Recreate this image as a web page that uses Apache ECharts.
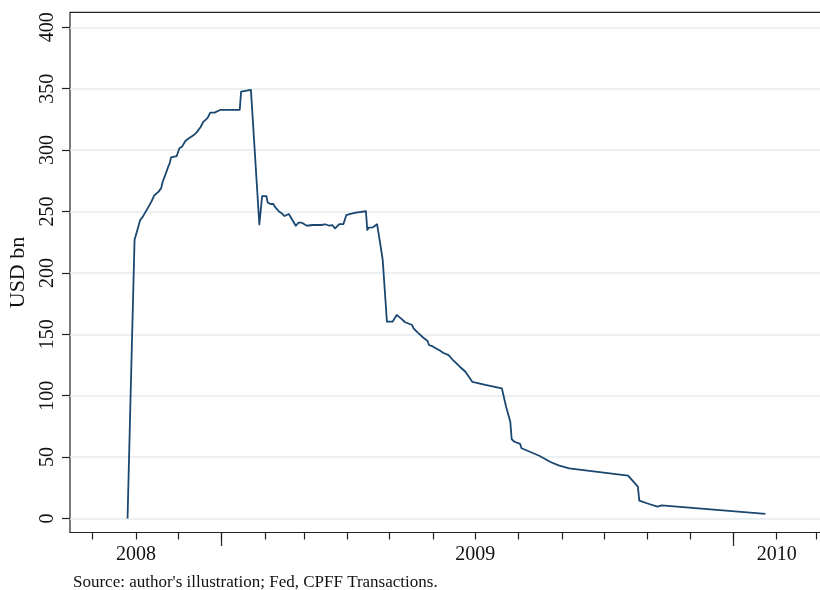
<!DOCTYPE html>
<html>
<head>
<meta charset="utf-8">
<script src="https://cdn.jsdelivr.net/npm/echarts@6/dist/echarts.min.js"></script>
<style>
html,body{margin:0;padding:0;background:#fff;}
#chart{width:820px;height:590px;}
</style>
</head>
<body>
<div id="chart"></div>
<script>
// ---- data ----
const dates = [
 '2008-10-26','2008-10-28','2008-10-31','2008-11-02','2008-11-04','2008-11-06','2008-11-10','2008-11-12',
 '2008-11-14','2008-11-17','2008-11-19','2008-11-20','2008-11-22','2008-11-24','2008-11-25','2008-11-26',
 '2008-11-30','2008-12-02','2008-12-04','2008-12-06','2008-12-08','2008-12-12','2008-12-14','2008-12-17',
 '2008-12-19','2008-12-22','2008-12-24','2008-12-27','2008-12-31','2009-01-14','2009-01-15','2009-01-22',
 '2009-01-28','2009-01-30','2009-02-02','2009-02-03','2009-02-05','2009-02-07','2009-02-08','2009-02-11',
 '2009-02-13','2009-02-15','2009-02-18','2009-02-19','2009-02-23','2009-02-25','2009-02-27','2009-03-03',
 '2009-03-07','2009-03-13','2009-03-16','2009-03-19','2009-03-21','2009-03-23','2009-03-26','2009-03-29',
 '2009-03-31','2009-04-03','2009-04-07','2009-04-14','2009-04-15','2009-04-16','2009-04-19','2009-04-22',
 '2009-04-24','2009-04-26','2009-04-29','2009-05-03','2009-05-06','2009-05-09','2009-05-12','2009-05-17',
 '2009-05-18','2009-05-21','2009-05-25','2009-05-28','2009-05-29','2009-06-01','2009-06-06','2009-06-08',
 '2009-06-12','2009-06-15','2009-06-20','2009-06-24','2009-06-29','2009-07-09','2009-07-20','2009-07-23',
 '2009-07-26','2009-07-27','2009-07-29','2009-08-02','2009-08-03','2009-08-06','2009-08-16','2009-08-24',
 '2009-08-30','2009-09-06','2009-10-18','2009-10-25','2009-10-26','2009-11-02','2009-11-08','2009-11-11',
 '2010-01-24'
];
const usdBn = [
 0, 92, 227, 235, 243, 246, 254, 258,
 263, 266, 269, 274, 280, 286.5, 289, 294,
 295, 301.5, 303, 307, 309, 312, 314, 318.6,
 323, 326, 330.5, 330.5, 332.7, 332.7, 347.6, 349,
 239.4, 262.6, 262.6, 257.2, 256.1, 256.1, 254, 250,
 248.5, 246.3, 248, 248.5, 238.4, 241, 241, 238.4,
 239, 239, 239.6, 238.4, 239, 236.3, 239.8, 239.8,
 247, 248, 249, 250.2, 235, 236.8, 237.1, 239.6,
 225.4, 210.5, 160.3, 160.3, 165.7, 163, 159.8, 157.6,
 154.9, 151.3, 147.2, 144.5, 141.3, 139.9, 136.6, 135,
 133.1, 129.1, 123.6, 119.5, 111.2, 108.7, 106, 91,
 78.8, 64.5, 62.5, 60.7, 57.2, 55.8, 50.9, 45.8,
 43, 40.9, 34.9, 25.9, 14.5, 11.8, 9.6, 10.7,
 3.7
];
const monthTicks = [
 '2008-10-01','2008-11-01','2008-12-01','2009-01-01','2009-02-01','2009-03-01','2009-04-01','2009-05-01',
 '2009-06-01','2009-07-01','2009-08-01','2009-09-01','2009-10-01','2009-11-01','2009-12-01','2010-01-01',
 '2010-02-01','2010-03-01'
];
const yearTicks = ['2009-01-01','2010-01-01'];
const labelDates = ['2008-11-01','2009-07-01','2010-02-01'];
const labelTexts = ['2008','2009','2010'];
const yMin = 0, yMax = 400, yStep = 50;
const yTitle = 'USD bn';
const sourceText = "Source: author's illustration; Fed, CPFF Transactions.";

// ---- helpers ----
const day = s => Date.parse(s + 'T00:00:00Z') / 86400000;
const origin = day('2008-10-01');
const gridLeft = 70, gridWidth = 770;          // frame runs past the right edge of the picture
const pxPerDay = 1.402, originPx = 92.5;
const xMin = origin - (originPx - gridLeft) / pxPerDay;
const xMax = xMin + gridWidth / pxPerDay;
const labelDays = labelDates.map(day);

const FONT = 'Liberation Serif';
const lineColor = '#1a476f';
const axisColor = '#222';

const chart = echarts.init(document.getElementById('chart'), null, {renderer: 'canvas'});
chart.setOption({
  animation: false,
  backgroundColor: '#fff',
  textStyle: {fontFamily: FONT},
  grid: [
    {left: gridLeft, width: gridWidth, top: 27.3, bottom: 71.5, containLabel: false, outerBoundsMode: 'none'},
    {left: gridLeft, width: gridWidth, top: 12.3, bottom: 57.5, containLabel: false, outerBoundsMode: 'none',
     show: true, borderColor: axisColor, borderWidth: 1.2, backgroundColor: 'transparent'}
  ],
  xAxis: [
    {gridIndex: 0, type: 'value', min: xMin, max: xMax, show: false},
    {gridIndex: 1, type: 'value', min: xMin, max: xMax, position: 'bottom',
     axisLine: {show: true, lineStyle: {color: axisColor, width: 1.2}},
     axisTick: {show: true, customValues: monthTicks.map(day), length: 7, lineStyle: {color: axisColor, width: 1.2}},
     axisLabel: {show: true, customValues: labelDays, margin: 12, color: '#111', fontFamily: FONT, fontSize: 20,
       formatter: v => { const i = labelDays.findIndex(d => Math.abs(d - v) < 0.01); return i >= 0 ? labelTexts[i] : ''; }},
     splitLine: {show: false}},
    {gridIndex: 1, type: 'value', min: xMin, max: xMax, position: 'bottom',
     axisLine: {show: false},
     axisTick: {show: true, customValues: yearTicks.map(day), length: 13.5, lineStyle: {color: axisColor, width: 1.2}},
     axisLabel: {show: false}, splitLine: {show: false}}
  ],
  yAxis: [
    {gridIndex: 0, type: 'value', min: yMin, max: yMax, interval: yStep,
     axisLine: {show: false},
     axisTick: {show: true, length: 8, lineStyle: {color: axisColor, width: 1.2}},
     axisLabel: {rotate: 90, margin: 12, color: '#111', fontFamily: FONT, fontSize: 20},
     splitLine: {show: true, lineStyle: {color: '#e4ecef', width: 1.5}}},
    {gridIndex: 1, type: 'value', min: 0, max: 1, show: false}
  ],
  series: [{
    type: 'line',
    xAxisIndex: 0, yAxisIndex: 0,
    data: dates.map((d, i) => [day(d), usdBn[i]]),
    showSymbol: false, symbol: 'none', clip: false,
    lineStyle: {color: lineColor, width: 1.8, join: 'round'}
  }],
  graphic: [
    {type: 'text', x: 18, y: 272.5, rotation: Math.PI / 2,
     style: {text: yTitle, fill: '#111', font: '22px "Liberation Serif"', align: 'center', verticalAlign: 'middle'}},
    {type: 'text', x: 73, y: 583,
     style: {text: sourceText, fill: '#111', font: '17px "Liberation Serif"', align: 'left', verticalAlign: 'middle'}}
  ]
});
</script>
</body>
</html>
